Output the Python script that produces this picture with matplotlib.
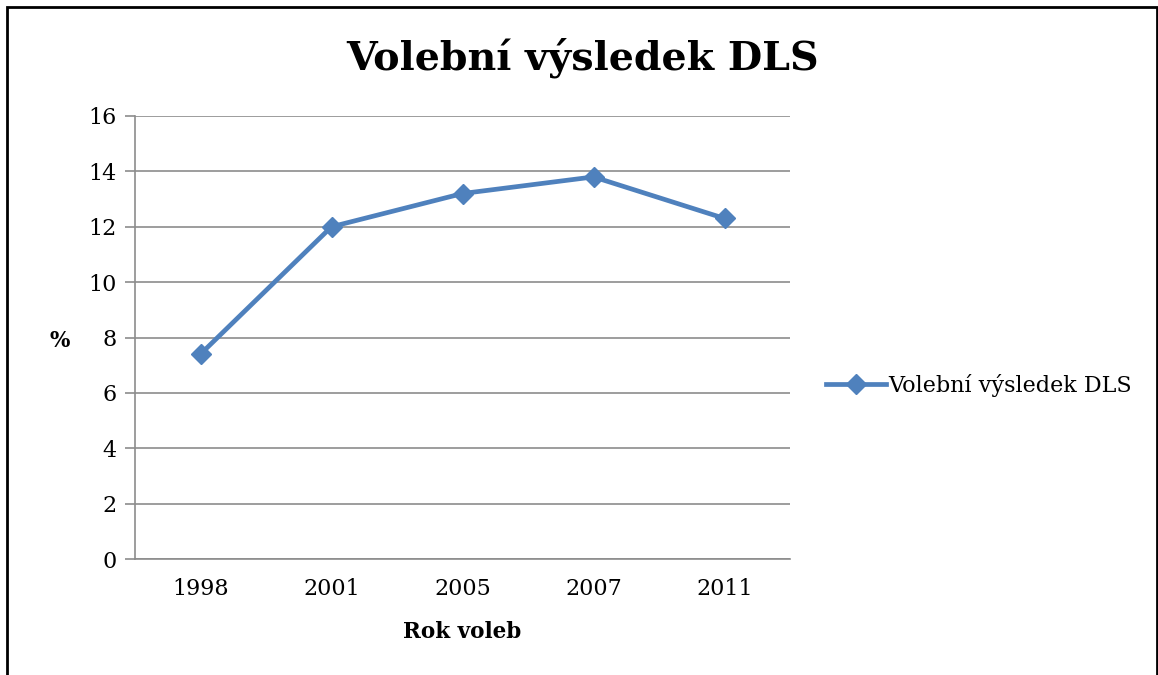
import matplotlib.pyplot as plt
from matplotlib.patches import Rectangle

# -------------------------------
# Data
# -------------------------------
years = ["1998", "2001", "2005", "2007", "2011"]
result_pct = [7.4, 12.0, 13.2, 13.8, 12.3]
y_ticks = [0, 2, 4, 6, 8, 10, 12, 14, 16]

series_name = "Volební výsledek DLS"
line_color = "#4F81BD"
grid_color = "#8C8C8C"

plt.rcParams["font.family"] = ["DejaVu Serif"]

# -------------------------------
# Figure
# -------------------------------
fig = plt.figure(figsize=(11.58, 6.75), dpi=100)
ax = fig.add_axes([135 / 1158, 1 - 559 / 675, 655 / 1158, 443 / 675])

x = list(range(len(years)))
ax.plot(x, result_pct, color=line_color, linewidth=3.4, marker="D",
        markersize=10.5, markeredgecolor=line_color, label=series_name)

ax.set_xlim(-0.5, len(years) - 0.5)
ax.set_ylim(0, 16)
ax.set_yticks(y_ticks)
ax.set_xticks(x)
ax.set_xticklabels(years)
ax.tick_params(axis="y", length=7, width=1.2, color=grid_color, labelsize=16, pad=6)
ax.tick_params(axis="x", length=0, labelsize=16, pad=14)

ax.grid(axis="y", color=grid_color, linewidth=1.2)
ax.set_axisbelow(True)
for side in ["top", "right"]:
    ax.spines[side].set_visible(False)
for side in ["left", "bottom"]:
    ax.spines[side].set_color(grid_color)
    ax.spines[side].set_linewidth(1.2)

# title and axis labels
fig.text(583 / 1158, 1 - 58 / 675, series_name, ha="center", va="center",
         fontsize=28.5, fontweight="bold")
fig.text(60 / 1158, 1 - 341 / 675, "%", ha="center", va="center",
         fontsize=15.5, fontweight="bold")
fig.text(462 / 1158, 1 - 632 / 675, "Rok voleb", ha="center", va="center",
         fontsize=15.5, fontweight="bold")

# legend
fig.legend(loc="center left", bbox_to_anchor=(826 / 1158, 1 - 385 / 675),
           frameon=False, fontsize=16, handlelength=2.7, handletextpad=0.1,
           borderpad=0, borderaxespad=0)

# outer frame
fig.patches.append(Rectangle((7 / 1158, -0.01), 1150 / 1158, 1 - 7 / 675 + 0.01,
                             transform=fig.transFigure, fill=False,
                             edgecolor="black", linewidth=2))

fig.savefig("out.png", dpi=100)
